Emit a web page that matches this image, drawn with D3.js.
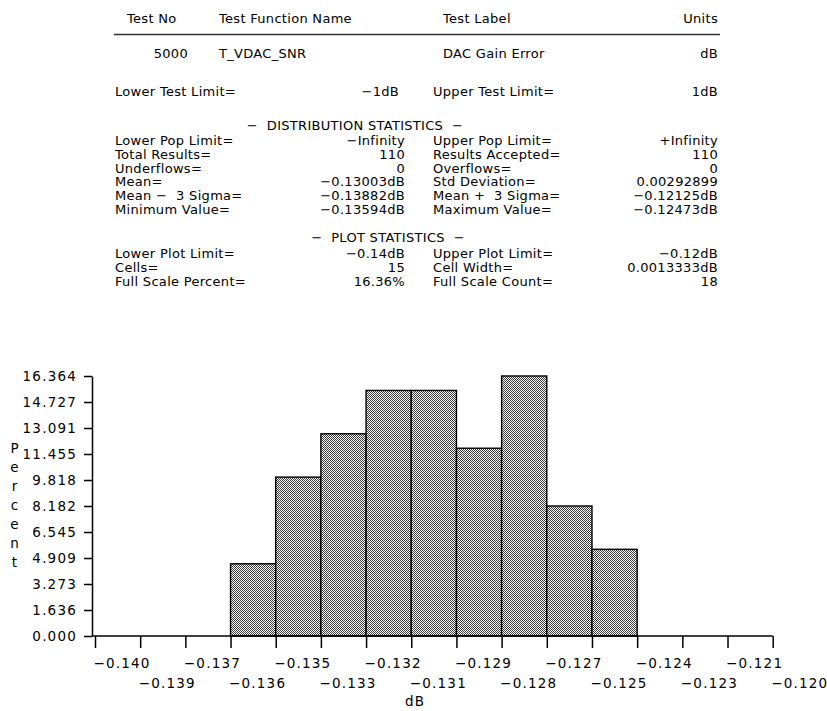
<!DOCTYPE html>
<html>
<head>
<meta charset="utf-8">
<script src="https://cdn.jsdelivr.net/npm/d3@7"></script>
<style>
  html, body { margin: 0; padding: 0; background: #fff; }
  svg { display: block; }
  .hdr { font-family: "DejaVu Sans", sans-serif; font-size: 13px; letter-spacing: 0.3px; fill: #000; white-space: pre; }
  .ax text { font-family: "DejaVu Sans", sans-serif; font-size: 13.5px; letter-spacing: 1.2px; fill: #000; }
  .lbl { font-family: "DejaVu Sans", sans-serif; font-size: 13.5px; letter-spacing: 1px; fill: #000; }
</style>
</head>
<body>
<svg id="chart" width="827" height="711"></svg>
<script>
// ---------------- data ----------------
const headerCols = ["Test No", "Test Function Name", "Test Label", "Units"];
const testInfo = ["5000", "T_VDAC_SNR", "DAC Gain Error", "dB"];
const testLimits = ["Lower Test Limit=", "\u22121dB", "Upper Test Limit=", "1dB"];
const distTitle = "\u2212  DISTRIBUTION STATISTICS  \u2212";
const distLeftLabels = ["Lower Pop Limit=", "Total Results=", "Underflows=", "Mean=", "Mean \u2212  3 Sigma=", "Minimum Value="];
const distLeftValues = ["\u2212Infinity", "110", "0", "\u22120.13003dB", "\u22120.13882dB", "\u22120.13594dB"];
const distRightLabels = ["Upper Pop Limit=", "Results Accepted=", "Overflows=", "Std Deviation=", "Mean +  3 Sigma=", "Maximum Value="];
const distRightValues = ["+Infinity", "110", "0", "0.00292899", "\u22120.12125dB", "\u22120.12473dB"];
const plotTitle = "\u2212  PLOT STATISTICS  \u2212";
const plotLeftLabels = ["Lower Plot Limit=", "Cells=", "Full Scale Percent="];
const plotLeftValues = ["\u22120.14dB", "15", "16.36%"];
const plotRightLabels = ["Upper Plot Limit=", "Cell Width=", "Full Scale Count="];
const plotRightValues = ["\u22120.12dB", "0.0013333dB", "18"];

// histogram cells (15 cells from -0.14 to -0.12)
const cellEdges = [-0.14, -0.1386667, -0.1373333, -0.136, -0.1346667, -0.1333333, -0.132, -0.1306667,
                   -0.1293333, -0.128, -0.1266667, -0.1253333, -0.124, -0.1226667, -0.1213333, -0.12];
const xTickLabels = ["\u22120.140", "\u22120.139", "\u22120.137", "\u22120.136", "\u22120.135", "\u22120.133",
                     "\u22120.132", "\u22120.131", "\u22120.129", "\u22120.128", "\u22120.127", "\u22120.125",
                     "\u22120.124", "\u22120.123", "\u22120.121", "\u22120.120"];
const cellPercent = [0, 0, 0, 4.545, 10.0, 12.727, 15.455, 15.455, 11.818, 16.364, 8.182, 5.455, 0, 0, 0];
const yTickValues = [0, 1.636, 3.273, 4.909, 6.545, 8.182, 9.818, 11.455, 13.091, 14.727, 16.364];
const yTickLabels = ["0.000", "1.636", "3.273", "4.909", "6.545", "8.182", "9.818", "11.455", "13.091", "14.727", "16.364"];
const yTitle = "Percent";
const xTitle = "dB";

// ---------------- layout ----------------
const svg = d3.select("#chart");

// pattern fill for bars
const defs = svg.append("defs");
const pat = defs.append("pattern").attr("id", "stipple")
  .attr("patternUnits", "userSpaceOnUse").attr("width", 2).attr("height", 2);
pat.append("rect").attr("width", 2).attr("height", 2).attr("fill", "#fff");
pat.append("rect").attr("x", 0).attr("y", 0).attr("width", 1).attr("height", 1).attr("fill", "#3a3a3a");
pat.append("rect").attr("x", 1).attr("y", 1).attr("width", 1).attr("height", 1).attr("fill", "#3a3a3a");

// ---------------- header text ----------------
const H = svg.append("g").attr("class", "hdr");
const colLeftLabel = 115, colLeftVal = 405, colRightLabel = 433, colRightVal = 718;

function txt(x, y, s, anchor) {
  H.append("text").attr("x", x).attr("y", y).attr("text-anchor", anchor || "start")
    .attr("xml:space", "preserve").text(s);
}
// header row
txt(127, 23, headerCols[0]);
txt(219, 23, headerCols[1]);
txt(443, 23, headerCols[2]);
txt(colRightVal, 23, headerCols[3], "end");
svg.append("line").attr("x1", 114).attr("x2", 720).attr("y1", 34.5).attr("y2", 34.5)
  .attr("stroke", "#333").attr("stroke-width", 1.4);
// test info row
txt(188, 58, testInfo[0], "end");
txt(219, 58, testInfo[1]);
txt(443, 58, testInfo[2]);
txt(colRightVal, 58, testInfo[3], "end");
// limits row
txt(colLeftLabel, 95.5, testLimits[0]);
txt(399, 95.5, testLimits[1], "end");
txt(colRightLabel, 95.5, testLimits[2]);
txt(colRightVal, 95.5, testLimits[3], "end");
// distribution statistics
txt(355, 130, distTitle, "middle");
distLeftLabels.forEach((s, i) => {
  const y = 145 + i * 13.8;
  txt(colLeftLabel, y, s);
  txt(colLeftVal, y, distLeftValues[i], "end");
  txt(colRightLabel, y, distRightLabels[i]);
  txt(colRightVal, y, distRightValues[i], "end");
});
// plot statistics
txt(388, 241.5, plotTitle, "middle");
plotLeftLabels.forEach((s, i) => {
  const y = 257.5 + i * 14;
  txt(colLeftLabel, y, s);
  txt(colLeftVal, y, plotLeftValues[i], "end");
  txt(colRightLabel, y, plotRightLabels[i]);
  txt(colRightVal, y, plotRightValues[i], "end");
});

// ---------------- histogram ----------------
const x = d3.scaleLinear().domain([cellEdges[0], cellEdges[cellEdges.length - 1]]).range([95, 772.7]);
const y = d3.scaleLinear().domain([0, yTickValues[yTickValues.length - 1]]).range([636, 376]);
const axisX0 = 92;

const bars = cellPercent.map((v, i) => ({ x0: cellEdges[i], x1: cellEdges[i + 1], v }))
  .filter(d => d.v > 0);
svg.append("g").selectAll("rect").data(bars).join("rect")
  .attr("x", d => x(d.x0))
  .attr("y", d => y(d.v))
  .attr("width", d => x(d.x1) - x(d.x0))
  .attr("height", d => y(0) - y(d.v))
  .attr("fill", "url(#stipple)")
  .attr("stroke", "#000")
  .attr("stroke-width", 1.4);

// y axis
const gy = svg.append("g").attr("class", "ax").attr("transform", `translate(${axisX0},0)`)
  .call(d3.axisLeft(y).tickValues(yTickValues).tickFormat((d, i) => yTickLabels[i])
    .tickSize(8).tickSizeOuter(0).tickPadding(7));
gy.select(".domain").attr("stroke", "#000").attr("stroke-width", 1.5);
gy.selectAll(".tick line").attr("stroke", "#000").attr("stroke-width", 1.5);
gy.selectAll(".tick text").attr("dy", "0.36em");

// x axis
const gx = svg.append("g").attr("class", "ax").attr("transform", `translate(0,${y(0)})`)
  .call(d3.axisBottom(x).tickValues(cellEdges).tickFormat((d, i) => xTickLabels[i])
    .tickSize(12).tickSizeOuter(0));
gx.select(".domain").remove();
gx.append("line").attr("x1", axisX0).attr("x2", x(cellEdges[cellEdges.length - 1]))
  .attr("y1", 0).attr("y2", 0).attr("stroke", "#000").attr("stroke-width", 1.5);
gx.selectAll(".tick line").attr("stroke", "#000").attr("stroke-width", 1.5);
gx.selectAll(".tick text")
  .attr("text-anchor", "start")
  .attr("x", -2)
  .attr("dy", 0)
  .attr("y", (d, i) => i % 2 === 0 ? 32 : 52);

// axis titles
svg.append("text").attr("class", "lbl").attr("x", 415).attr("y", 706)
  .attr("text-anchor", "middle").text(xTitle);
const yt = svg.append("g");
yTitle.split("").forEach((ch, i) => {
  yt.append("text").attr("class", "lbl").attr("x", 15).attr("y", 453 + i * 19)
    .attr("text-anchor", "middle").text(ch);
});
</script>
</body>
</html>
